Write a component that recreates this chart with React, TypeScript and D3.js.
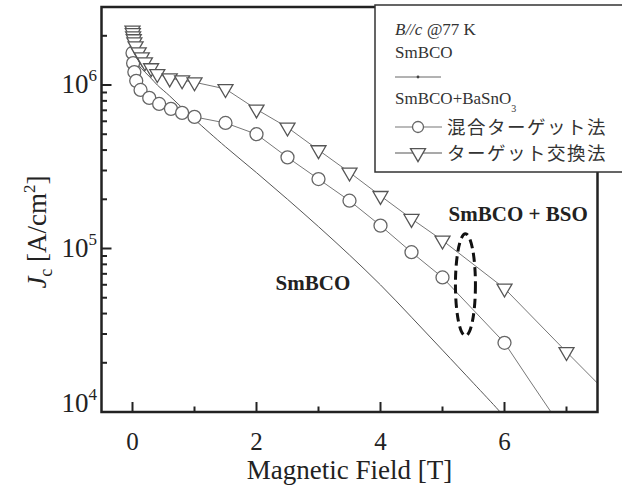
import { useEffect, useRef } from 'react'
import * as d3 from 'd3'

// SmBCO (no BSO): continuous thin curve
const smbcoField = [0, 0.05, 0.1, 0.2, 0.3, 0.4, 0.6, 0.8, 1.0, 1.5, 2.0, 2.5, 3.0, 3.5, 4.0, 4.5, 5.0, 5.5, 5.9, 6.0]
const smbcoJc = [1.7e6, 1.44e6, 1.32e6, 1.2e6, 1.1e6, 1.0e6, 8.57e5, 7.25e5, 6.16e5, 4.19e5, 2.91e5, 2.0e5, 1.36e5, 9.12e4, 5.99e4, 3.8e4, 2.39e4, 1.5e4, 1.03e4, 9.3e3]

// SmBCO+BaSnO3, mixed target method (circles)
const mixField = [0, 0.01, 0.03, 0.06, 0.13, 0.27, 0.43, 0.62, 0.8, 1.0, 1.5, 2.0, 2.5, 3.0, 3.5, 4.0, 4.5, 5.0, 6.0]
const mixJc = [1.57e6, 1.36e6, 1.2e6, 1.06e6, 9.33e5, 8.34e5, 7.66e5, 7.15e5, 6.75e5, 6.38e5, 5.86e5, 5.0e5, 3.61e5, 2.66e5, 1.96e5, 1.38e5, 9.49e4, 6.65e4, 2.65e4]
// measured curve continues past the last marker
const mixTailField = [6.4, 6.75, 6.8]
const mixTailJc = [1.57e4, 1.0e4, 9.5e3]

// SmBCO+BaSnO3, target exchange method (triangles)
const swapField = [0, 0.005, 0.01, 0.02, 0.03, 0.05, 0.1, 0.15, 0.2, 0.3, 0.4, 0.6, 0.8, 1.0, 1.5, 2.0, 2.5, 3.0, 3.5, 4.0, 4.5, 5.0, 6.0, 7.0]
const swapJc = [2.16e6, 2.08e6, 1.99e6, 1.91e6, 1.83e6, 1.73e6, 1.59e6, 1.48e6, 1.38e6, 1.27e6, 1.17e6, 1.1e6, 1.07e6, 1.04e6, 9.46e5, 7.1e5, 5.5e5, 4.0e5, 2.92e5, 2.1e5, 1.52e5, 1.12e5, 5.7e4, 2.33e4]
const swapTailField = [7.5]
const swapTailJc = [1.5e4]

const xMajorTicks = [0, 2, 4, 6]
const xMinorTicks = [1, 3, 5, 7]
const yDecades = [4, 5, 6]

const width = 622
const height = 486
const serif = '"Liberation Serif", "Times New Roman", serif'
const cjk = '"Noto Sans CJK JP", sans-serif'

const App = () => {
  const svgRef = useRef(null)

  useEffect(() => {
    const x = d3.scaleLinear().domain([-0.5, 7.5]).range([101.5, 597.5])
    const y = d3.scaleLog().domain([1e4, 3e6]).range([412, 7])
    const [x0, x1] = x.range()
    const [yb, yt] = y.range()

    const svgEl = d3.select(svgRef.current)
    svgEl.selectAll('*').remove()
    const svg = svgEl.append('g')

    svg.append('rect').attr('width', width).attr('height', height).attr('fill', '#fff')

    svg
      .append('defs')
      .append('clipPath')
      .attr('id', 'plot-clip')
      .append('rect')
      .attr('x', x0)
      .attr('y', yt)
      .attr('width', x1 - x0)
      .attr('height', yb - yt)

    const plot = svg.append('g').attr('clip-path', 'url(#plot-clip)')

    const zip = (xs, ys) => xs.map((v, i) => [v, ys[i]])
    const line = d3
      .line()
      .x((d) => x(d[0]))
      .y((d) => y(d[1]))

    // curves
    plot
      .append('path')
      .attr('d', line.curve(d3.curveCatmullRom.alpha(0.5))(zip(smbcoField, smbcoJc)))
      .attr('fill', 'none')
      .attr('stroke', '#555')
      .attr('stroke-width', 1)
    plot
      .append('path')
      .attr('d', line.curve(d3.curveLinear)(zip(mixField.concat(mixTailField), mixJc.concat(mixTailJc))))
      .attr('fill', 'none')
      .attr('stroke', '#777')
      .attr('stroke-width', 1)
    plot
      .append('path')
      .attr('d', line.curve(d3.curveLinear)(zip(swapField.concat(swapTailField), swapJc.concat(swapTailJc))))
      .attr('fill', 'none')
      .attr('stroke', '#777')
      .attr('stroke-width', 1)

    // markers
    plot
      .selectAll('.mix')
      .data(zip(mixField, mixJc))
      .enter()
      .append('circle')
      .attr('cx', (d) => x(d[0]))
      .attr('cy', (d) => y(d[1]))
      .attr('r', 6.5)
      .attr('fill', '#fff')
      .attr('stroke', '#666')
      .attr('stroke-width', 1.3)

    const triPath = 'M-7.5,-4.3L7.5,-4.3L0,8.6Z'
    plot
      .selectAll('.swap')
      .data(zip(swapField, swapJc))
      .enter()
      .append('path')
      .attr('d', triPath)
      .attr('transform', (d) => `translate(${x(d[0])},${y(d[1])})`)
      .attr('fill', '#fff')
      .attr('stroke', '#555')
      .attr('stroke-width', 1.3)

    // dashed ellipse annotation
    plot
      .append('ellipse')
      .attr('cx', x(5.37))
      .attr('cy', y(6.0e4))
      .attr('rx', 10)
      .attr('ry', 51)
      .attr('fill', 'none')
      .attr('stroke', '#111')
      .attr('stroke-width', 3)
      .attr('stroke-dasharray', '9,5')

    // frame
    svg
      .append('rect')
      .attr('x', x0)
      .attr('y', yt)
      .attr('width', x1 - x0)
      .attr('height', yb - yt)
      .attr('fill', 'none')
      .attr('stroke', '#222')
      .attr('stroke-width', 2.5)

    // x ticks (inward, bottom only)
    svg
      .selectAll('.xmaj')
      .data(xMajorTicks)
      .enter()
      .append('line')
      .attr('x1', (d) => x(d))
      .attr('x2', (d) => x(d))
      .attr('y1', yb)
      .attr('y2', yb - 10)
      .attr('stroke', '#222')
      .attr('stroke-width', 2)
    svg
      .selectAll('.xmin')
      .data(xMinorTicks)
      .enter()
      .append('line')
      .attr('x1', (d) => x(d))
      .attr('x2', (d) => x(d))
      .attr('y1', yb)
      .attr('y2', yb - 5.5)
      .attr('stroke', '#222')
      .attr('stroke-width', 2)
    svg
      .selectAll('.xlab')
      .data(xMajorTicks)
      .enter()
      .append('text')
      .attr('x', (d) => x(d))
      .attr('y', 450)
      .attr('text-anchor', 'middle')
      .style('font-family', serif)
      .style('font-size', '25px')
      .style('fill', '#222')
      .text((d) => d)

    // y ticks (inward, left only)
    const yMinor = []
    yDecades.forEach((p) => {
      for (let k = 2; k <= 9; k++) {
        const v = k * Math.pow(10, p)
        if (v <= 3e6) yMinor.push(v)
      }
    })
    svg
      .selectAll('.ymaj')
      .data(yDecades)
      .enter()
      .append('line')
      .attr('x1', x0)
      .attr('x2', x0 + 10)
      .attr('y1', (d) => y(Math.pow(10, d)))
      .attr('y2', (d) => y(Math.pow(10, d)))
      .attr('stroke', '#222')
      .attr('stroke-width', 2)
    svg
      .selectAll('.ymin')
      .data(yMinor)
      .enter()
      .append('line')
      .attr('x1', x0)
      .attr('x2', x0 + 5.5)
      .attr('y1', (d) => y(d))
      .attr('y2', (d) => y(d))
      .attr('stroke', '#222')
      .attr('stroke-width', 2)
    const ylab = svg
      .selectAll('.ylab')
      .data(yDecades)
      .enter()
      .append('text')
      .attr('x', 97)
      .attr('y', (d) => Math.min(y(Math.pow(10, d)) + 8, yb))
      .attr('text-anchor', 'end')
      .style('font-family', serif)
      .style('font-size', '27px')
      .style('fill', '#222')
    ylab.append('tspan').text('10')
    ylab
      .append('tspan')
      .attr('dy', -12)
      .style('font-size', '17px')
      .text((d) => d)

    // axis titles
    svg
      .append('text')
      .attr('x', (x0 + x1) / 2)
      .attr('y', 479)
      .attr('text-anchor', 'middle')
      .style('font-family', serif)
      .style('font-size', '27px')
      .style('fill', '#222')
      .text('Magnetic Field [T]')

    const yTitle = svg
      .append('text')
      .attr('transform', 'translate(46,232) rotate(-90)')
      .attr('text-anchor', 'middle')
      .style('font-family', serif)
      .style('font-size', '27px')
      .style('fill', '#222')
    yTitle.append('tspan').style('font-style', 'italic').text('J')
    yTitle.append('tspan').attr('dy', 6).style('font-size', '18px').text('c')
    yTitle.append('tspan').attr('dy', -6).text(' [A/cm')
    yTitle.append('tspan').attr('dy', -11).style('font-size', '17px').text('2')
    yTitle.append('tspan').attr('dy', 11).text(']')

    // plot annotations
    svg
      .append('text')
      .attr('x', x(2.91))
      .attr('y', y(5.55e4))
      .attr('text-anchor', 'middle')
      .style('font-family', serif)
      .style('font-weight', 'bold')
      .style('font-size', '21px')
      .style('fill', '#222')
      .text('SmBCO')
    svg
      .append('text')
      .attr('x', x(6.22))
      .attr('y', y(1.47e5))
      .attr('text-anchor', 'middle')
      .style('font-family', serif)
      .style('font-weight', 'bold')
      .style('font-size', '21px')
      .style('fill', '#222')
      .text('SmBCO + BSO')

    // legend
    const lg = svg.append('g')
    lg.append('rect')
      .attr('x', 375)
      .attr('y', 5)
      .attr('width', 260)
      .attr('height', 167)
      .attr('fill', '#fff')
      .attr('stroke', '#333')
      .attr('stroke-width', 1.5)

    const t1 = lg
      .append('text')
      .attr('x', 395)
      .attr('y', 35)
      .style('font-family', serif)
      .style('font-size', '17px')
      .style('fill', '#333')
    t1.append('tspan').style('font-style', 'italic').text('B//c @')
    t1.append('tspan').text('77 K')

    lg.append('text')
      .attr('x', 395)
      .attr('y', 58)
      .style('font-family', serif)
      .style('font-size', '17px')
      .style('fill', '#333')
      .text('SmBCO')
    lg.append('line')
      .attr('x1', 395)
      .attr('x2', 441)
      .attr('y1', 77)
      .attr('y2', 77)
      .attr('stroke', '#666')
      .attr('stroke-width', 1)
    lg.append('circle').attr('cx', 418).attr('cy', 77).attr('r', 1.4).attr('fill', '#444')

    const t2 = lg
      .append('text')
      .attr('x', 395)
      .attr('y', 104)
      .style('font-family', serif)
      .style('font-size', '17px')
      .style('fill', '#333')
    t2.append('tspan').text('SmBCO+BaSnO')
    t2.append('tspan').attr('dy', 8).style('font-size', '10px').text('3')

    lg.append('line')
      .attr('x1', 395)
      .attr('x2', 442)
      .attr('y1', 127)
      .attr('y2', 127)
      .attr('stroke', '#777')
      .attr('stroke-width', 1.2)
    lg.append('circle')
      .attr('cx', 418)
      .attr('cy', 127)
      .attr('r', 5.5)
      .attr('fill', '#fff')
      .attr('stroke', '#666')
      .attr('stroke-width', 1.3)
    lg.append('text')
      .attr('x', 447)
      .attr('y', 134)
      .style('font-family', cjk)
      .style('font-size', '18.5px')
      .style('letter-spacing', '1.5px')
      .style('fill', '#333')
      .text('混合ターゲット法')

    lg.append('line')
      .attr('x1', 395)
      .attr('x2', 442)
      .attr('y1', 153)
      .attr('y2', 153)
      .attr('stroke', '#555')
      .attr('stroke-width', 1.2)
    lg.append('path')
      .attr('d', triPath)
      .attr('transform', 'translate(418,153)')
      .attr('fill', '#fff')
      .attr('stroke', '#555')
      .attr('stroke-width', 1.3)
    lg.append('text')
      .attr('x', 447)
      .attr('y', 160)
      .style('font-family', cjk)
      .style('font-size', '18.5px')
      .style('letter-spacing', '1.5px')
      .style('fill', '#333')
      .text('ターゲット交換法')
  }, [])

  return (
    <svg
      ref={svgRef}
      width={width}
      height={height}
      style={{ position: 'absolute', left: 0, top: 0 }}
    />
  )
}

export default App
